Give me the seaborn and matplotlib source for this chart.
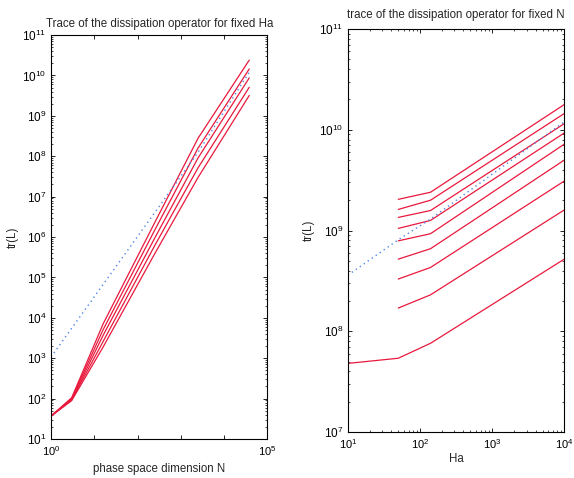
import numpy as np
import pandas as pd
import matplotlib
matplotlib.use("Agg")
import matplotlib.pyplot as plt
import matplotlib.ticker as mticker
import seaborn as sns

# ---- fixed Ha: trace vs phase space dimension N ----
n_values = [1, 3, 16, 250, 2500, 38000]
trace_fixed_ha = [
    [37, 105, 7.1e3, 2.3e6, 2.8e8, 2.4e10],
    [37, 100, 5.1e3, 1.5e6, 1.6e8, 1.45e10],
    [37, 95, 3.7e3, 9.5e5, 9.1e7, 8.7e9],
    [37, 93, 2.6e3, 6.2e5, 5.2e7, 5.1e9],
    [37, 89, 1.9e3, 3.9e5, 3.0e7, 3.2e9],
]
ref_n = [1, 2500, 38000]
ref_trace_n = [1.07e3, 1.26e8, 1.2e10]

# ---- fixed N: trace vs Hartmann number Ha ----
ha_values = [10, 50, 140, 1e4]
trace_fixed_n = [
    [None, 2.04e9, 2.40e9, 1.78e10],
    [None, 1.62e9, 2.00e9, 1.45e10],
    [None, 1.35e9, 1.58e9, 1.15e10],
    [None, 1.05e9, 1.26e9, 9.3e9],
    [None, 7.9e8, 9.3e8, 7.2e9],
    [None, 5.2e8, 6.6e8, 5.0e9],
    [None, 3.3e8, 4.3e8, 3.1e9],
    [None, 1.7e8, 2.3e8, 1.6e9],
    [4.8e7, 5.4e7, 7.6e7, 5.2e8],
]
ref_ha = [10, 50, 140, 1e4]
ref_trace_ha = [3.6e8, 8.1e8, 1.3e9, 1.2e10]

RED = "#e8193c"
BLUE = "#4f86e8"

sns.set_style("ticks")
plt.rcParams["font.family"] = ["Liberation Sans", "DejaVu Sans"]
plt.rcParams.update({
    "xtick.direction": "in", "ytick.direction": "in",
    "xtick.top": True, "ytick.right": True,
    "xtick.major.size": 3, "ytick.major.size": 3,
    "xtick.minor.size": 1.6, "ytick.minor.size": 1.6,
    "xtick.major.width": 0.6, "ytick.major.width": 0.6,
    "xtick.minor.width": 0.5, "ytick.minor.width": 0.5,
    "axes.linewidth": 0.8, "axes.edgecolor": "black",
    "xtick.color": "black", "ytick.color": "black",
    "xtick.labelsize": 8, "ytick.labelsize": 8.5,
})


def long_frame(xs, rows, xname):
    recs = []
    for i, row in enumerate(rows):
        for x, y in zip(xs, row):
            if y is not None:
                recs.append({xname: x, "tr": y, "curve": i})
    return pd.DataFrame(recs)


def decade_ticks(lo, hi):
    major = [10.0 ** k for k in range(lo, hi + 1)]
    minor = [m * 10.0 ** k for k in range(lo, hi) for m in range(2, 10)]
    return major, minor


fig = plt.figure(figsize=(5.74, 4.78), dpi=100)
ax1 = fig.add_axes([0.0889, 0.0816, 0.377, 0.845])
ax2 = fig.add_axes([0.606, 0.0962, 0.377, 0.843])

# left panel
df1 = long_frame(n_values, trace_fixed_ha, "N")
ax1.set_xscale("log")
ax1.set_yscale("log")
sns.lineplot(data=df1, x="N", y="tr", units="curve", estimator=None, sort=False,
             color=RED, linewidth=0.9, ax=ax1)
sns.lineplot(x=ref_n, y=ref_trace_n, color=BLUE, linestyle=(0, (1, 2.5)),
             linewidth=1.0, ax=ax1)
ax1.set_xlim(1, 1e5)
ax1.set_ylim(1e1, 1e11)
ax1.xaxis.set_major_locator(mticker.FixedLocator([1, 1e5]))
ax1.xaxis.set_minor_locator(mticker.FixedLocator([10, 100, 1e3, 1e4]))
ax1.xaxis.set_major_formatter(mticker.LogFormatterMathtext())
ax1.xaxis.set_minor_formatter(mticker.NullFormatter())
ax1.tick_params(axis="x", which="minor", length=3, width=0.6)
ymaj, ymin = decade_ticks(1, 11)
ax1.yaxis.set_major_locator(mticker.FixedLocator(ymaj))
ax1.yaxis.set_minor_locator(mticker.FixedLocator(ymin))
ax1.yaxis.set_major_formatter(mticker.LogFormatterMathtext())
ax1.yaxis.set_minor_formatter(mticker.NullFormatter())
ax1.set_title("Trace of the dissipation operator for fixed Ha", fontsize=8.3, pad=6)
ax1.set_xlabel("phase space dimension N", fontsize=8.3, labelpad=4)
ax1.set_ylabel("tr(L)", fontsize=8.3, labelpad=2)

# right panel
df2 = long_frame(ha_values, trace_fixed_n, "Ha")
ax2.set_xscale("log")
ax2.set_yscale("log")
sns.lineplot(data=df2, x="Ha", y="tr", units="curve", estimator=None, sort=False,
             color=RED, linewidth=0.9, ax=ax2)
sns.lineplot(x=ref_ha, y=ref_trace_ha, color=BLUE, linestyle=(0, (1, 2.5)),
             linewidth=1.0, ax=ax2)
ax2.set_xlim(10, 1e4)
ax2.set_ylim(1e7, 1e11)
xmaj, xmin = decade_ticks(1, 4)
ymaj2, ymin2 = decade_ticks(7, 11)
ax2.xaxis.set_major_locator(mticker.FixedLocator(xmaj))
ax2.xaxis.set_minor_locator(mticker.FixedLocator(xmin))
ax2.yaxis.set_major_locator(mticker.FixedLocator(ymaj2))
ax2.yaxis.set_minor_locator(mticker.FixedLocator(ymin2))
for axis in (ax2.xaxis, ax2.yaxis):
    axis.set_major_formatter(mticker.LogFormatterMathtext())
    axis.set_minor_formatter(mticker.NullFormatter())
ax2.set_title("trace of the dissipation operator for fixed N", fontsize=8.3, pad=8)
ax2.set_xlabel("Ha", fontsize=8.3, labelpad=2)
ax2.set_ylabel("tr(L)", fontsize=8.3, labelpad=3)

for ax in (ax1, ax2):
    ax.grid(False)
    if ax.get_legend() is not None:
        ax.get_legend().remove()

fig.savefig("out.png", dpi=100, facecolor="white")
